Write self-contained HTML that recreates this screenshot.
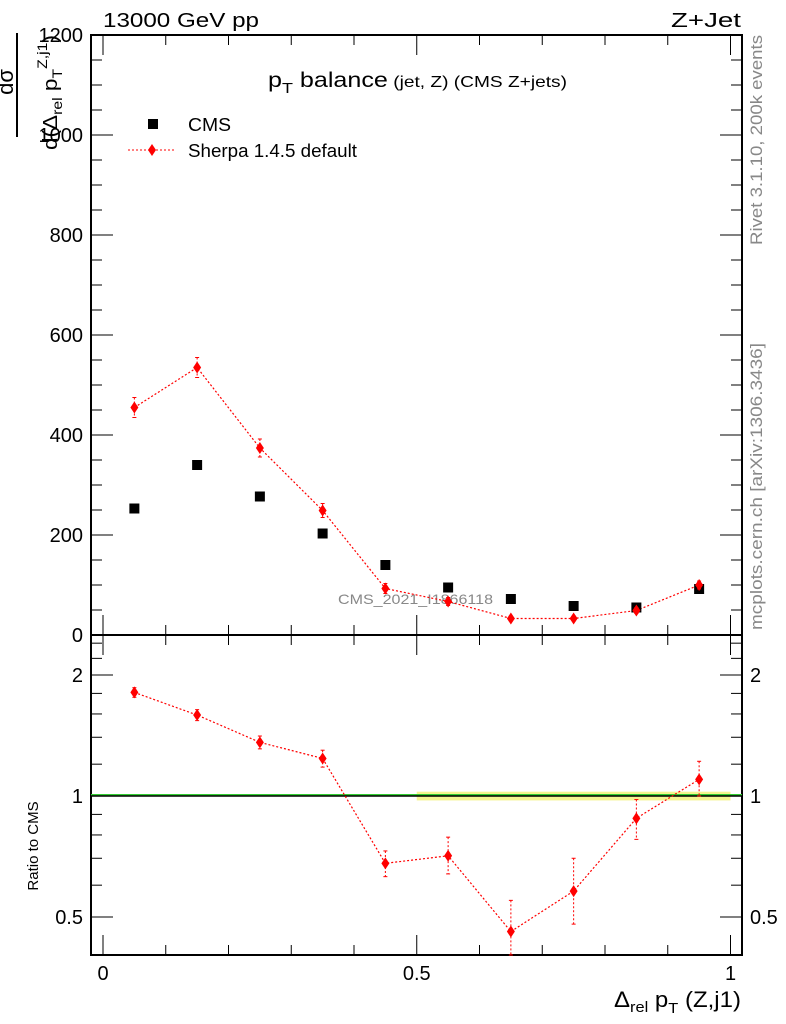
<!DOCTYPE html>
<html><head><meta charset="utf-8"><style>
body{margin:0;background:#fff;}
svg{display:block;font-family:"Liberation Sans",sans-serif;}
</style></head><body>
<svg id="c" width="786" height="1024" viewBox="0 0 786 1024">
<text x="103" y="27" font-size="20" textLength="156" lengthAdjust="spacingAndGlyphs">13000 GeV pp</text>
<text x="671" y="27" font-size="20" textLength="70" lengthAdjust="spacingAndGlyphs">Z+Jet</text>
<text x="268" y="87" font-size="21" textLength="299" lengthAdjust="spacingAndGlyphs">p<tspan font-size="15" dy="6">T</tspan><tspan dy="-6"> balance</tspan><tspan font-size="16"> (jet, Z) (CMS Z+jets)</tspan></text>
<text transform="translate(762,245) rotate(-90)" font-size="17" fill="#888" textLength="210" lengthAdjust="spacingAndGlyphs">Rivet 3.1.10,  200k events</text>
<text transform="translate(762,630) rotate(-90)" font-size="17" fill="#888" textLength="287" lengthAdjust="spacingAndGlyphs">mcplots.cern.ch [arXiv:1306.3436]</text>
<text x="338" y="604" font-size="14" fill="#888" textLength="155" lengthAdjust="spacingAndGlyphs">CMS_2021_I1866118</text>
<g>
<text transform="translate(13,82) rotate(-90)" font-size="22" text-anchor="middle">dσ</text>
<line x1="17" y1="33" x2="17" y2="137" stroke="#000" stroke-width="2"/>
<text transform="translate(57,150) rotate(-90)" font-size="20" textLength="115" lengthAdjust="spacingAndGlyphs">d(Δ<tspan font-size="14" dy="5">rel</tspan><tspan dy="-5"> p</tspan><tspan font-size="14" dy="5">T</tspan><tspan font-size="14" dy="-15">Z,j1</tspan><tspan dy="10">)</tspan></text>
</g>
<text transform="translate(38,846) rotate(-90)" font-size="15" text-anchor="middle">Ratio to CMS</text>
<text x="614" y="1007" font-size="22" textLength="127" lengthAdjust="spacingAndGlyphs">Δ<tspan font-size="15" dy="5">rel</tspan><tspan dy="-5"> p</tspan><tspan font-size="15" dy="6">T</tspan><tspan dy="-6"> (Z,j1)</tspan></text>
<g>
<rect x="148" y="119" width="10" height="10" fill="#000"/>
<text x="188" y="131" font-size="18" textLength="43" lengthAdjust="spacingAndGlyphs">CMS</text>
<line x1="128" y1="150" x2="176" y2="150" stroke="red" stroke-dasharray="2,2"/>
<path d="M152,144 L156,150 L152,156 L148,150Z" fill="red"/>
<text x="188" y="157" font-size="18" textLength="169" lengthAdjust="spacingAndGlyphs">Sherpa 1.4.5 default</text>
</g>
<g id="g"></g>
</svg>
<script>
const binCenters=[0.05,0.15,0.25,0.35,0.45,0.55,0.65,0.75,0.85,0.95];
const cmsValues=[253,340,277,203,140,95,72,58,55,92];
const sherpaValues=[455,535,374,249,93,67,33,33,49,100];
const sherpaErrors=[20,20,18,14,10,8,5,5,6,8];
const ratioValues=[1.81,1.59,1.36,1.24,0.68,0.71,0.46,0.58,0.88,1.10];
const ratioErrLo=[0.05,0.05,0.05,0.06,0.05,0.07,0.08,0.1,0.1,0.1];
const ratioErrHi=[0.05,0.05,0.05,0.06,0.05,0.08,0.09,0.12,0.1,0.12];
const yTicks=[0,200,400,600,800,1000,1200];
const rTicks=[0.5,1,2];
const xTicks=[0,0.5,1];
const L=91,R=742,T=35,M=635,B=955;
const X=v=>103+v*627.5;
const Y=v=>M-v*0.5;
const RY=v=>796-121*Math.log2(v);
const ns='http://www.w3.org/2000/svg',g=document.getElementById('g');
function el(t,a,p){const e=document.createElementNS(ns,t);for(const k in a)e.setAttribute(k,a[k]);(p||g).appendChild(e);return e;}
let f1=el('rect',{x:L,y:T,width:R-L,height:M-T,fill:'none',stroke:'#000','stroke-width':2});


let f2=el('rect',{x:L,y:M,width:R-L,height:B-M,fill:'none',stroke:'#000','stroke-width':2});


for(let i=0;i<=10;i++){const v=i/10,x=X(v),len=(i%5==0)?20:10;
 el('line',{x1:x,y1:M,x2:x,y2:M-len,stroke:'#000'});el('line',{x1:x,y1:T,x2:x,y2:T+len,stroke:'#000'});
 el('line',{x1:x,y1:B,x2:x,y2:B-len,stroke:'#000'});el('line',{x1:x,y1:M,x2:x,y2:M+len,stroke:'#000'});}
xTicks.forEach(v=>{const t=el('text',{x:X(v),y:980,'font-size':20,'text-anchor':'middle'});t.textContent=String(v);

});
for(let v=0;v<=1200;v+=50){const y=Y(v),len=(v%200==0)?22:11;
 el('line',{x1:L,y1:y,x2:L+len,y2:y,stroke:'#000'});el('line',{x1:R,y1:y,x2:R-len,y2:y,stroke:'#000'});}
yTicks.forEach(v=>{const t=el('text',{x:83,y:Y(v)+7,'font-size':20,'text-anchor':'end'});t.textContent=String(v);

});
[0.5,0.6,0.7,0.8,0.9,1,1.2,1.4,1.6,1.8,2,2.2,2.4].forEach(v=>{const y=RY(v),len=rTicks.includes(v)?22:11;
 el('line',{x1:L,y1:y,x2:L+len,y2:y,stroke:'#000'});el('line',{x1:R,y1:y,x2:R-len,y2:y,stroke:'#000'});});
rTicks.forEach(v=>{const t=el('text',{x:83,y:RY(v)+7,'font-size':20,'text-anchor':'end'});t.textContent=String(v);


const t2=el('text',{x:750,y:RY(v)+7,'font-size':20});t2.textContent=String(v);

});
let band=el('rect',{x:X(0.5),y:RY(1.025),width:X(1)-X(0.5),height:RY(0.975)-RY(1.025),fill:'#f0f060',opacity:0.7});


el('line',{x1:L,y1:RY(1)-1,x2:R,y2:RY(1)-1,stroke:'#3c3',"stroke-width":2});
let rl=el('line',{x1:L,y1:RY(1),x2:R,y2:RY(1),stroke:'#000','stroke-width':1.5});


let pl=el('polyline',{points:binCenters.map((c,i)=>X(c)+','+Y(sherpaValues[i])).join(' '),fill:'none',stroke:'red','stroke-dasharray':'2,2','stroke-width':1.2});


let rpl=el('polyline',{points:binCenters.map((c,i)=>X(c)+','+RY(ratioValues[i])).join(' '),fill:'none',stroke:'red','stroke-dasharray':'2,2','stroke-width':1.2});


function dia(x,y,name){const p=el('path',{d:`M${x},${y-6}L${x+4},${y}L${x},${y+6}L${x-4},${y}Z`,fill:'red'});

}
binCenters.forEach((c,i)=>{const x=X(c);
 const r=el('rect',{x:x-5,y:Y(cmsValues[i])-5,width:10,height:10,fill:'#000'});
 
 
 const y1=Y(sherpaValues[i]+sherpaErrors[i]),y2=Y(sherpaValues[i]-sherpaErrors[i]);
 el('line',{x1:x,y1:y1,x2:x,y2:y2,stroke:'red','stroke-dasharray':'2,2'});
 el('line',{x1:x-2,y1:y1,x2:x+2,y2:y1,stroke:'red'});el('line',{x1:x-2,y1:y2,x2:x+2,y2:y2,stroke:'red'});
 dia(x,Y(sherpaValues[i]),'sherpa-point');
 const ry1=RY(ratioValues[i]+ratioErrHi[i]),ry2=Math.min(B,RY(ratioValues[i]-ratioErrLo[i]));
 el('line',{x1:x,y1:ry1,x2:x,y2:ry2,stroke:'red','stroke-dasharray':'2,2'});
 el('line',{x1:x-2,y1:ry1,x2:x+2,y2:ry1,stroke:'red'});el('line',{x1:x-2,y1:ry2,x2:x+2,y2:ry2,stroke:'red'});
 dia(x,RY(ratioValues[i]),'ratio-point');
});
</script>
</body></html>
